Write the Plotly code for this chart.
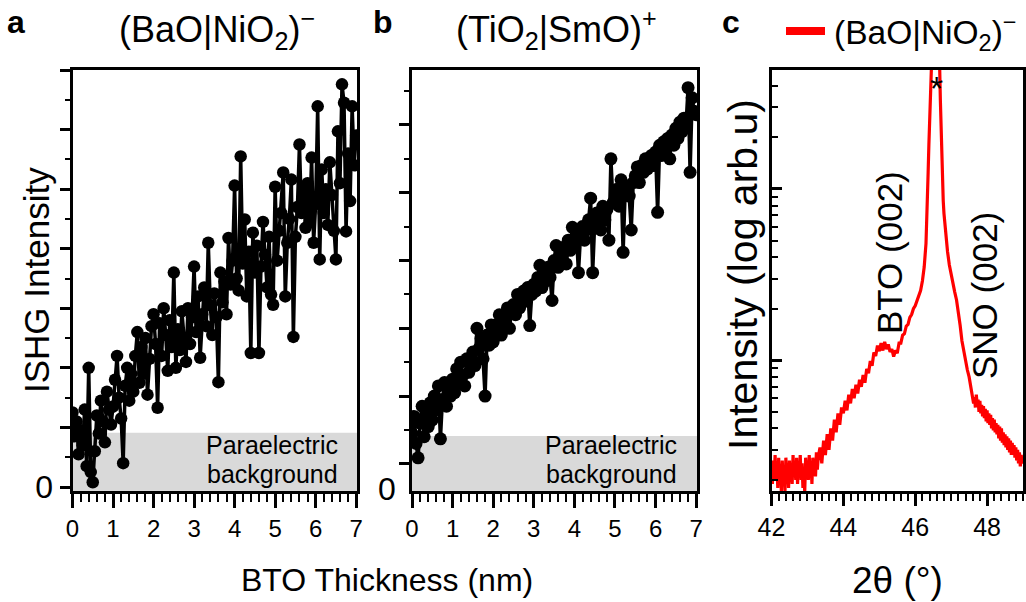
import plotly.graph_objects as go

# BTO film thickness at which each SHG point was taken (nm)
thickness_nm = [
    0.00, 0.05, 0.10, 0.15, 0.20, 0.25, 0.30, 0.35, 0.40, 0.45,
    0.50, 0.55, 0.60, 0.65, 0.70, 0.75, 0.80, 0.85, 0.90, 0.95,
    1.00, 1.05, 1.10, 1.15, 1.20, 1.25, 1.30, 1.35, 1.40, 1.45,
    1.50, 1.55, 1.60, 1.65, 1.70, 1.75, 1.80, 1.85, 1.90, 1.95,
    2.00, 2.05, 2.10, 2.15, 2.20, 2.25, 2.30, 2.35, 2.40, 2.45,
    2.50, 2.55, 2.60, 2.65, 2.70, 2.75, 2.80, 2.85, 2.90, 2.95,
    3.00, 3.05, 3.10, 3.15, 3.20, 3.25, 3.30, 3.35, 3.40, 3.45,
    3.50, 3.55, 3.60, 3.65, 3.70, 3.75, 3.80, 3.85, 3.90, 3.95,
    4.00, 4.05, 4.10, 4.15, 4.20, 4.25, 4.30, 4.35, 4.40, 4.45,
    4.50, 4.55, 4.60, 4.65, 4.70, 4.75, 4.80, 4.85, 4.90, 4.95,
    5.00, 5.05, 5.10, 5.15, 5.20, 5.25, 5.30, 5.35, 5.40, 5.45,
    5.50, 5.55, 5.60, 5.65, 5.70, 5.75, 5.80, 5.85, 5.90, 5.95,
    6.00, 6.05, 6.10, 6.15, 6.20, 6.25, 6.30, 6.35, 6.40, 6.45,
    6.50, 6.55, 6.60, 6.65, 6.70, 6.75, 6.80, 6.85, 6.90, 6.95,
    7.00,
]

# ISHG intensity (arb. units), (BaO|NiO2)- terminated substrate
ishg_bao_nio2 = [
    1.25, 0.85, 1.10, 0.55, 0.95, 0.70, 1.30, 0.35, 2.00, 0.25,
    0.08, 0.60, 1.20, 0.90, 1.45, 1.10, 0.75, 1.60, 1.30, 1.05,
    1.35, 1.80, 2.20, 1.50, 1.15, 0.40, 1.70, 2.00, 1.45, 1.90,
    1.60, 2.20, 2.60, 1.75, 2.35, 1.90, 2.50, 1.55, 2.15, 2.70,
    2.90, 2.40, 1.33, 2.75, 2.20, 3.00, 2.55, 1.95, 2.80, 2.35,
    3.60, 2.00, 2.65, 2.30, 2.95, 2.45, 2.10, 3.00, 2.40, 2.85,
    3.70, 2.60, 3.20, 2.17, 2.90, 3.35, 2.70, 4.10, 3.05, 2.55,
    3.25, 2.85, 1.76, 3.60, 3.10, 3.45, 2.90, 4.18, 3.40, 3.80,
    5.06, 3.50, 3.30, 5.55, 3.75, 4.49, 3.20, 3.95, 2.25, 4.27,
    3.60, 4.05, 2.25, 3.70, 4.45, 3.90, 3.35, 4.20, 3.23, 3.06,
    5.04, 3.80, 4.30, 4.60, 5.28, 3.20, 4.10, 4.50, 5.16, 2.52,
    4.20, 4.70, 5.75, 4.60, 4.95, 4.35, 5.10, 4.44, 5.53, 4.10,
    4.75, 6.39, 3.82, 5.33, 4.60, 5.00, 4.40, 5.45, 4.90, 4.30,
    3.82, 5.97, 5.10, 6.76, 6.45, 4.29, 5.60, 4.80, 6.39, 5.40,
    5.90,
]

# ISHG intensity (arb. units), (TiO2|SmO)+ terminated substrate
ishg_tio2_smo = [
    0.85, 1.10, 0.70, 0.49, 1.00, 1.25, 0.80, 1.15, 0.95, 1.30,
    1.05, 1.40, 1.20, 1.55, 0.77, 1.35, 1.60, 1.25, 1.50, 1.40,
    1.65, 1.45, 1.80, 1.60, 1.90, 1.70, 1.55, 1.95, 1.75, 1.85,
    2.05, 1.85, 2.40, 2.10, 2.25, 1.95, 1.40, 2.30, 2.15, 2.45,
    2.20, 2.45, 2.35, 2.60, 2.30, 2.56, 2.50, 2.70, 2.40, 2.65,
    2.75, 2.60, 2.90, 2.70, 2.85, 2.95, 2.80, 3.00, 2.44, 2.90,
    3.05, 2.95, 3.15, 3.33, 3.00, 3.20, 3.10, 3.30, 3.15, 2.81,
    3.40, 3.62, 3.30, 3.50, 3.45, 3.60, 3.35, 3.70, 3.55, 3.89,
    3.65, 3.80, 3.22, 3.75, 3.90, 3.70, 3.85, 4.00, 4.32, 3.22,
    3.95, 4.10, 4.05, 3.85, 4.20, 4.00, 4.15, 3.70, 4.90, 4.25,
    4.30, 4.45, 4.20, 4.59, 3.52, 4.40, 4.50, 4.35, 3.85, 4.55,
    4.65, 4.78, 4.55, 4.80, 4.70, 4.90, 4.75, 4.85, 4.95, 4.80,
    5.00, 4.11, 5.10, 4.95, 5.15, 5.05, 5.20, 4.90, 5.25, 5.10,
    5.35, 5.20, 5.44, 5.30, 5.50, 5.40, 5.95, 4.70, 5.80, 5.60,
    5.55,
]

# XRD 2theta-omega scan of the (BaO|NiO2)- sample
two_theta_deg = [
    42.000, 42.025, 42.050, 42.075, 42.100, 42.125, 42.150, 42.175, 42.200, 42.225,
    42.250, 42.275, 42.300, 42.325, 42.350, 42.375, 42.400, 42.425, 42.450, 42.475,
    42.500, 42.525, 42.550, 42.575, 42.600, 42.625, 42.650, 42.675, 42.700, 42.725,
    42.750, 42.775, 42.800, 42.825, 42.850, 42.875, 42.900, 42.925, 42.950, 42.975,
    43.000, 43.025, 43.050, 43.075, 43.100, 43.125, 43.150, 43.175, 43.200, 43.225,
    43.250, 43.275, 43.300,
    43.35, 43.40, 43.45, 43.50, 43.55, 43.60, 43.65, 43.70, 43.75, 43.80,
    43.85, 43.90, 43.95, 44.00, 44.05, 44.10, 44.15, 44.20, 44.25, 44.30,
    44.35, 44.40, 44.45, 44.50, 44.55, 44.60, 44.65, 44.70, 44.75, 44.80,
    44.85, 44.90, 44.95, 45.00, 45.05, 45.10, 45.15, 45.20, 45.25, 45.30,
    45.35, 45.40, 45.45, 45.50, 45.55, 45.60, 45.65, 45.70, 45.75, 45.80,
    45.85, 45.90, 45.95, 46.00, 46.05, 46.10, 46.15, 46.20, 46.25, 46.30,
    46.32, 46.34, 46.36, 46.38, 46.40, 46.42, 46.44, 46.46, 46.48, 46.50,
    46.52, 46.54, 46.56, 46.58, 46.60, 46.62, 46.64, 46.66, 46.68, 46.70,
    46.72, 46.74, 46.76, 46.78, 46.80,
    46.85, 46.90, 46.95, 47.00, 47.05, 47.10, 47.15, 47.20, 47.25, 47.30,
    47.35, 47.40, 47.45, 47.50, 47.55, 47.60,
    47.625, 47.650, 47.675, 47.700, 47.725, 47.750, 47.775, 47.800, 47.825, 47.850,
    47.875, 47.900, 47.925, 47.950, 47.975, 48.000, 48.025, 48.050, 48.075, 48.100,
    48.125, 48.150, 48.175, 48.200, 48.225, 48.250, 48.275, 48.300, 48.325, 48.350,
    48.375, 48.400, 48.425, 48.450, 48.475, 48.500, 48.525, 48.550, 48.575, 48.600,
    48.625, 48.650, 48.675, 48.700, 48.725, 48.750, 48.775, 48.800, 48.825, 48.850,
    48.875, 48.900, 48.925, 48.950, 48.975, 49.000,
]
xrd_intensity = [
    24, 19, 26, 20, 28, 21, 25, 18, 27, 20,
    23, 17, 26, 19, 24, 17, 27, 21, 25, 18,
    26, 20, 23, 19, 28, 21, 25, 20, 27, 19,
    24, 21, 28, 20, 25, 18, 23, 17, 27, 21,
    26, 20, 28, 21, 25, 19, 27, 22, 26, 21,
    29, 23, 27,
    31, 25, 34, 28, 37, 30, 40, 34, 45, 38,
    49, 42, 53, 49, 58, 51, 63, 56, 68, 60,
    72, 64, 77, 70, 82, 74, 89, 84, 99, 93,
    111, 106, 122, 113, 126, 114, 128, 116, 124, 112,
    116, 105, 114, 110, 126, 126, 140, 143, 158, 162,
    178, 185, 200, 208, 222, 236, 255, 290, 350, 480,
    620, 850, 1250, 1800, 2600, 3500, 5000, 8000, 12000, 16000,
    18500, 19000, 18500, 17000, 14000, 11000, 8500, 6800, 5200, 3300,
    2200, 1500, 1050, 850, 720,
    520, 430, 360, 315, 280, 250, 225, 195, 160, 130,
    112, 98, 88, 80, 70, 62,
    56, 61, 53, 63, 55, 59, 50, 58, 49, 55,
    47, 54, 46, 52, 44, 51, 43, 49, 42, 48,
    40, 46, 39, 45, 38, 43, 37, 42, 35, 41,
    34, 40, 33, 38, 32, 37, 31, 36, 30, 35,
    29, 34, 28, 33, 28, 32, 27, 31, 26, 30,
    25, 29, 24, 28, 25, 27,
]

thickness_ticks = [0, 1, 2, 3, 4, 5, 6, 7]
ishg_ticks = [0, 1, 2, 3, 4, 5, 6, 7]
ishg_tick_text = ["0", "", "", "", "", "", "", ""]
two_theta_ticks = [42, 44, 46, 48]
xrd_major = [100, 1000]

BLACK = "#000000"
RED = "#ff0000"
BAND = "#d9d9d9"
FONT = "Liberation Sans, Arial, sans-serif"

W, H = 1026, 602


def px(x):
    return x / W


def py(y):
    return 1 - y / H


dom_a = [px(72.5), px(357)]
dom_b = [px(412), px(697)]
dom_c = [px(771.5), px(1023)]
dom_y = [py(491), py(70)]

range_t = [0, 7.02]
range_a = [-0.067, 7.0]
range_b = [0, 6.21]
range_c = [1.237, 3.694]

fig = go.Figure()
fig.add_trace(go.Scatter(
    x=thickness_nm, y=ishg_bao_nio2, mode="lines+markers",
    line=dict(color=BLACK, width=3.5), marker=dict(color=BLACK, size=12.5),
    xaxis="x", yaxis="y", showlegend=False))
fig.add_trace(go.Scatter(
    x=thickness_nm, y=ishg_tio2_smo, mode="lines+markers",
    line=dict(color=BLACK, width=3.5), marker=dict(color=BLACK, size=13),
    xaxis="x2", yaxis="y2", showlegend=False))
fig.add_trace(go.Scatter(
    x=two_theta_deg, y=xrd_intensity, mode="lines",
    line=dict(color=RED, width=3.2),
    xaxis="x3", yaxis="y3", showlegend=False))

frame = dict(showline=True, linecolor=BLACK, linewidth=3, mirror=True,
             showgrid=False, zeroline=False, tickcolor=BLACK, tickwidth=2.5,
             automargin=False)
bare = dict(showline=False, showgrid=False, zeroline=False,
            showticklabels=False, tickcolor=BLACK, tickwidth=2.5,
            automargin=False)


def thickness_axes(dom, anchor, over):
    bottom = dict(frame, domain=dom, anchor=anchor, range=range_t,
                  tickmode="array", tickvals=thickness_ticks,
                  ticks="outside", ticklen=14,
                  tickfont=dict(family=FONT, size=24, color=BLACK),
                  minor=dict(ticks="outside", ticklen=8, dtick=0.2, tick0=0,
                             tickcolor=BLACK, tickwidth=2))
    top = dict(bare, overlaying=over, anchor=anchor, side="top",
               range=range_t, tickmode="array", tickvals=thickness_ticks,
               ticks="inside", ticklen=13,
               minor=dict(ticks="inside", ticklen=7, dtick=0.2, tick0=0,
                          tickcolor=BLACK, tickwidth=2))
    return bottom, top


xa, xa_top = thickness_axes(dom_a, "y", "x")
xb, xb_top = thickness_axes(dom_b, "y2", "x2")

ya = dict(frame, domain=dom_y, anchor="x", range=range_a,
          tickmode="array", tickvals=ishg_ticks, ticktext=ishg_tick_text,
          ticks="outside", ticklen=10,
          tickfont=dict(family=FONT, size=32, color=BLACK),
          minor=dict(ticks="outside", ticklen=5, dtick=0.5, tick0=0,
                     tickcolor=BLACK, tickwidth=2))
ya_right = dict(bare, overlaying="y", anchor="x", side="right", range=range_a,
                tickmode="linear", tick0=0, dtick=1, ticks="inside", ticklen=7,
                minor=dict(ticks="inside", ticklen=4, dtick=0.5, tick0=0,
                           tickcolor=BLACK, tickwidth=2))

yb = dict(frame, domain=dom_y, anchor="x2", range=range_b,
          tickmode="linear", tick0=0.4, dtick=1, ticks="outside", ticklen=10,
          showticklabels=False,
          minor=dict(ticks="outside", ticklen=5, dtick=0.5, tick0=0.4,
                     tickcolor=BLACK, tickwidth=2))
yb_right = dict(bare, overlaying="y2", anchor="x2", side="right", range=range_b,
                tickmode="linear", tick0=0.4, dtick=1, ticks="inside", ticklen=7,
                minor=dict(ticks="inside", ticklen=4, dtick=0.5, tick0=0.4,
                           tickcolor=BLACK, tickwidth=2))

xc = dict(frame, domain=dom_c, anchor="y3", range=[42, 49],
          tickmode="array", tickvals=two_theta_ticks,
          ticks="outside", ticklen=12,
          tickfont=dict(family=FONT, size=25, color=BLACK),
          minor=dict(ticks="outside", ticklen=7, dtick=0.2, tick0=42,
                     tickcolor=BLACK, tickwidth=2))
xc_in = dict(bare, overlaying="x3", anchor="y3", side="bottom", range=[42, 49],
             tickmode="array", tickvals=two_theta_ticks,
             ticks="inside", ticklen=12)
xc_top = dict(bare, overlaying="x3", anchor="y3", side="top", range=[42, 49],
              tickmode="array", tickvals=two_theta_ticks,
              ticks="inside", ticklen=14,
              minor=dict(ticks="inside", ticklen=7, dtick=0.2, tick0=42,
                         tickcolor=BLACK, tickwidth=2))

log_minor = [m * d for d in (10, 100, 1000) for m in range(2, 10)]
yc = dict(frame, domain=dom_y, anchor="x3", type="log", range=range_c,
          tickmode="array", tickvals=xrd_major, ticks="inside", ticklen=10,
          showticklabels=False,
          minor=dict(ticks="inside", ticklen=6, tickmode="array",
                     tickvals=log_minor, tickcolor=BLACK, tickwidth=2))
yc_right = dict(bare, overlaying="y3", anchor="x3", side="right", type="log",
                range=range_c, tickmode="array", tickvals=xrd_major,
                ticks="inside", ticklen=10,
                minor=dict(ticks="inside", ticklen=6, tickmode="array",
                           tickvals=log_minor, tickcolor=BLACK, tickwidth=2))

fig.update_layout(
    width=W, height=H, margin=dict(l=0, r=0, t=0, b=0, autoexpand=False),
    paper_bgcolor="white", plot_bgcolor="white",
    font=dict(family=FONT, color=BLACK),
    xaxis=xa, xaxis2=xb, xaxis3=xc,
    xaxis4=xa_top, xaxis5=xb_top, xaxis6=xc_top, xaxis7=xc_in,
    yaxis=ya, yaxis2=yb, yaxis3=yc,
    yaxis4=ya_right, yaxis5=yb_right, yaxis6=yc_right,
)

# paraelectric background bands
for xr, yr, top in (("x", "y", 0.91), ("x2", "y2", 0.81)):
    fig.add_shape(type="rect", xref=xr + " domain", yref=yr,
                  x0=0, x1=1, y0=-0.1, y1=top,
                  fillcolor=BAND, line=dict(width=0), layer="below")

# legend swatch of panel c
fig.add_shape(type="line", xref="paper", yref="paper",
              x0=px(786), x1=px(825), y0=py(31), y1=py(31),
              line=dict(color=RED, width=8))


def note(text, x, y, size, angle=0, xanchor="center", bold=False):
    fig.add_annotation(text=text, x=px(x), y=py(y), xref="paper", yref="paper",
                       xanchor=xanchor, yanchor="middle", showarrow=False,
                       textangle=angle,
                       font=dict(family=FONT, size=size, color=BLACK,
                                 weight="bold" if bold else "normal"))


note("a", 16, 22, 32, bold=True)
note("b", 383, 22, 32, bold=True)
note("c", 731, 22, 32, bold=True)
note("(BaO|NiO<sub>2</sub>)<sup>−</sup>", 217, 30, 36)
note("(TiO<sub>2</sub>|SmO)<sup>+</sup>", 556, 30, 36)
note("(BaO|NiO<sub>2</sub>)<sup>−</sup>", 832, 32, 33.5, xanchor="left")
note("ISHG Intensity", 37, 280, 35, angle=-90)
note("BTO Thickness (nm)", 387, 580, 32)
note("0", 387, 489, 32)
note("Intensity (log arb.u)", 743, 275, 41, angle=-90)
note("2θ (°)", 897, 580, 37)
note("BTO (002)", 890, 253, 35, angle=-90)
note("SNO (002)", 984, 296, 35, angle=-90)
note("*", 936, 88, 34)
for xr in (340, 679):
    note("Paraelectric", xr, 445, 25, xanchor="right")
    note("background", xr, 474, 25, xanchor="right")

fig.write_html("out.html")
